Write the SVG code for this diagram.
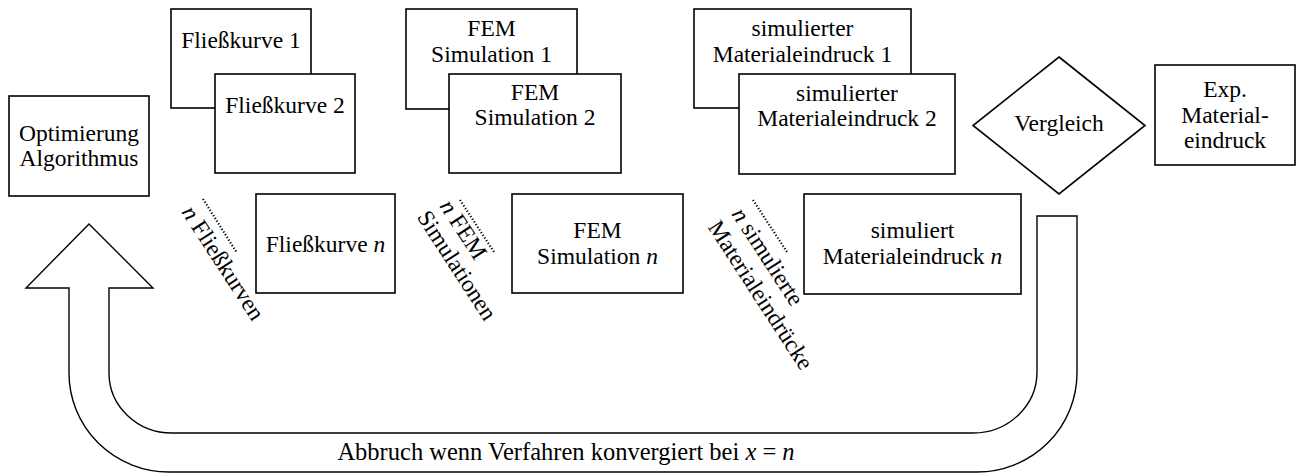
<svg xmlns="http://www.w3.org/2000/svg" width="1299" height="473" viewBox="0 0 1299 473">
<defs>
<style>
.box{fill:#fff;stroke:#000;stroke-width:1.6}
.shape{fill:#fff;stroke:#000;stroke-width:1.4}
.t{font-family:"Liberation Serif","Times New Roman",serif;font-size:23.5px;fill:#000;text-anchor:middle}
.r{font-family:"Liberation Serif","Times New Roman",serif;font-size:23.5px;fill:#000}
.i{font-style:italic}
.dots{fill:none;stroke:#000;stroke-width:2.2;stroke-dasharray:1.2 2}
</style>
</defs>
<rect width="1299" height="473" fill="#fff"/>

<g id="connectors">
<path class="shape" d="M89,224 L153,288 L109,288 L109,373 A63,60 0 0 0 172,433 L973,433 A64,61 0 0 0 1037,372 L1037,216 L1077,216 L1077,373 A100,99 0 0 1 977,472 L169,472 A100,99 0 0 1 69,373 L69,288 L26,288 Z"/>
<text class="t" x="566" y="460" style="font-size:24.5px">Abbruch wenn Verfahren konvergiert bei <tspan class="i">x</tspan> = <tspan class="i">n</tspan></text>
</g>

<g id="optimierung">
<rect class="box" x="9" y="96" width="140" height="100"/>
<text class="t" x="79" y="141">Optimierung</text>
<text class="t" x="79" y="166">Algorithmus</text>
</g>

<g id="fliesskurve1">
<rect class="box" x="171" y="9" width="140" height="99"/>
<text class="t" x="241" y="48">Fließkurve 1</text>
</g>
<g id="fliesskurve2">
<rect class="box" x="215" y="74" width="140" height="99"/>
<text class="t" x="285" y="113">Fließkurve 2</text>
</g>
<g id="fliesskurven">
<rect class="box" x="256" y="194" width="139" height="99"/>
<text class="t" x="325.5" y="252">Fließkurve <tspan class="i">n</tspan></text>
</g>

<g id="fem1">
<rect class="box" x="406" y="9" width="171" height="100"/>
<text class="t" x="491.5" y="36">FEM</text>
<text class="t" x="491.5" y="62">Simulation 1</text>
</g>
<g id="fem2">
<rect class="box" x="449" y="74" width="172" height="99"/>
<text class="t" x="535" y="100">FEM</text>
<text class="t" x="535" y="125">Simulation 2</text>
</g>
<g id="femn">
<rect class="box" x="512" y="194" width="171" height="99"/>
<text class="t" x="597.5" y="238">FEM</text>
<text class="t" x="597.5" y="264">Simulation <tspan class="i">n</tspan></text>
</g>

<g id="sim1">
<rect class="box" x="694" y="9" width="217" height="99"/>
<text class="t" x="802.5" y="36">simulierter</text>
<text class="t" x="802.5" y="62">Materialeindruck 1</text>
</g>
<g id="sim2">
<rect class="box" x="739" y="74" width="216" height="100"/>
<text class="t" x="847" y="101">simulierter</text>
<text class="t" x="847" y="126">Materialeindruck 2</text>
</g>
<g id="simn">
<rect class="box" x="804" y="194" width="217" height="100"/>
<text class="t" x="912.5" y="238">simuliert</text>
<text class="t" x="912.5" y="264">Materialeindruck <tspan class="i">n</tspan></text>
</g>

<g id="vergleich">
<polygon class="box" points="1059,57 1145,125.5 1059,194 973,125.5"/>
<text class="t" x="1059" y="131">Vergleich</text>
</g>

<g id="exp">
<rect class="box" x="1155" y="65" width="140" height="100"/>
<text class="t" x="1225" y="97">Exp.</text>
<text class="t" x="1225" y="123">Material-</text>
<text class="t" x="1225" y="148">eindruck</text>
</g>

<g id="label-fliesskurven">
<line class="dots" x1="203" y1="199" x2="237" y2="253"/>
<text class="r" transform="translate(181,212) rotate(57)"><tspan class="i">n</tspan> Fließkurven</text>
</g>
<g id="label-fem">
<line class="dots" x1="460" y1="200" x2="494" y2="252"/>
<g transform="translate(439,206) rotate(57)">
<text class="r" x="0" y="0"><tspan class="i">n</tspan> FEM</text>
<text class="r" x="-3" y="25">Simulationen</text>
</g>
</g>
<g id="label-sim">
<line class="dots" x1="753" y1="200" x2="787" y2="252"/>
<g transform="translate(731,214) rotate(57)">
<text class="r" x="0" y="0"><tspan class="i">n</tspan> simulierte</text>
<text class="r" x="-2" y="27">Materialeindrücke</text>
</g>
</g>
</svg>
